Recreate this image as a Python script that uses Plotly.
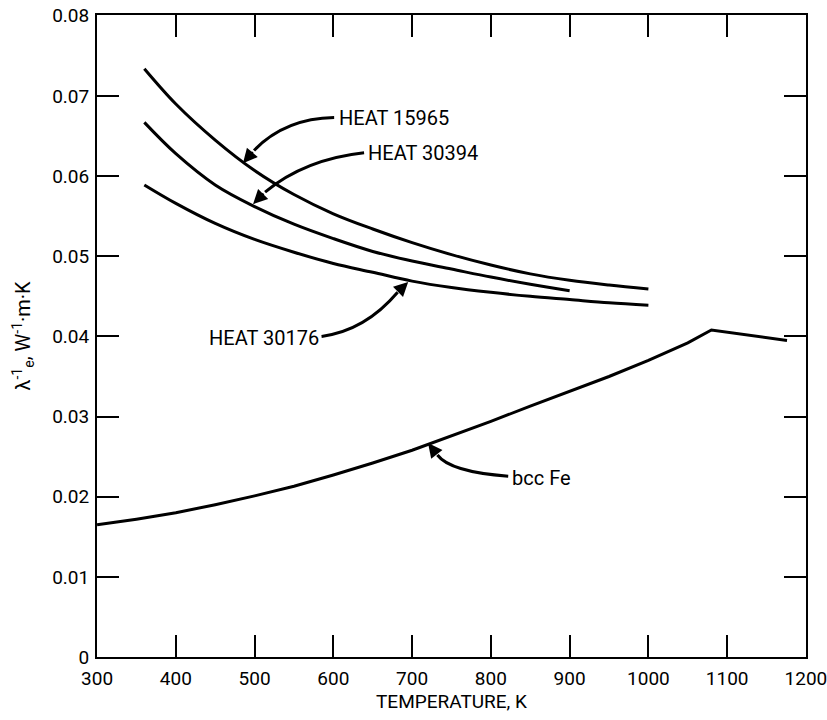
import plotly.graph_objects as go

# Data
T_heat = [360, 400, 450, 500, 550, 600, 650, 700, 750, 800, 850, 900, 950, 1000]
heat_15965 = [0.0734, 0.0690, 0.0645, 0.0607, 0.0577, 0.0553, 0.0534, 0.0517, 0.0502, 0.0489, 0.0478, 0.0470, 0.0464, 0.0459]
T_30394 = [360, 400, 450, 500, 550, 600, 650, 700, 750, 800, 850, 900]
heat_30394 = [0.0667, 0.0628, 0.0589, 0.0562, 0.0540, 0.0522, 0.0506, 0.0494, 0.0484, 0.0474, 0.0465, 0.0457]
heat_30176 = [0.0589, 0.0566, 0.0541, 0.0521, 0.0505, 0.0491, 0.0480, 0.0469, 0.0461, 0.0455, 0.0450, 0.0446, 0.0442, 0.0439]
T_fe = [300, 350, 400, 450, 500, 550, 600, 650, 700, 750, 800, 850, 900, 950, 1000, 1050, 1080, 1130, 1176]
bcc_fe = [0.0165, 0.0172, 0.0180, 0.0190, 0.0201, 0.0213, 0.0227, 0.0242, 0.0258, 0.0276, 0.0294, 0.0313, 0.0331, 0.0350, 0.0370, 0.0392, 0.0408, 0.0401, 0.0395]

x_ticks = [300, 400, 500, 600, 700, 800, 900, 1000, 1100, 1200]
y_ticks = [0, 0.01, 0.02, 0.03, 0.04, 0.05, 0.06, 0.07, 0.08]
y_tick_text = ["0", "0.01", "0.02", "0.03", "0.04", "0.05", "0.06", "0.07", "0.08"]

FONT = "Roboto, DejaVu Sans, sans-serif"
line_style = dict(color="black", width=3)

fig = go.Figure()
fig.add_trace(go.Scatter(x=T_heat, y=heat_15965, mode="lines", line=line_style, line_shape="spline"))
fig.add_trace(go.Scatter(x=T_30394, y=heat_30394, mode="lines", line=line_style, line_shape="spline"))
fig.add_trace(go.Scatter(x=T_heat, y=heat_30176, mode="lines", line=line_style, line_shape="spline"))
fig.add_trace(go.Scatter(x=T_fe, y=bcc_fe, mode="lines", line=line_style))

# Labels: (text, x, y, xanchor)
labels = [
    ("HEAT 15965", 604, 0.0673, "left"),
    ("HEAT 30394", 642, 0.0629, "left"),
    ("HEAT 30176", 584, 0.0398, "right"),
    ("bcc Fe", 824, 0.0223, "left"),
]
for text, x, y, xa in labels:
    fig.add_annotation(x=x, y=y, text=text, showarrow=False, xanchor=xa, yanchor="middle",
                       font=dict(family=FONT, size=20, color="black"))

# Curved leader arrows: (tail, control, tip, back point for head)
arrows = [
    ((601.0, 0.0673), (538.6, 0.0672), (485.3, 0.0616), (499.3, 0.0632)),
    ((639.0, 0.0629), (563.9, 0.0621), (498.0, 0.0565), (513.3, 0.0580)),
    ((585.0, 0.0400), (640.2, 0.0407), (695.0, 0.0468), (681.6, 0.0455)),
    ((822.0, 0.02255), (748.1, 0.0231), (720.2, 0.0267), (732.1, 0.0252)),
]
for tail, ctrl, tip, back in arrows:
    fig.add_shape(type="path", xref="x", yref="y",
                  path=f"M {tail[0]},{tail[1]} Q {ctrl[0]},{ctrl[1]} {back[0]},{back[1]}",
                  line=dict(color="black", width=3))
    fig.add_annotation(x=tip[0], y=tip[1], ax=back[0], ay=back[1], axref="x", ayref="y",
                       xref="x", yref="y", text="", showarrow=True, arrowhead=2,
                       arrowsize=1.3, arrowwidth=2.2, arrowcolor="black", standoff=0)

axis_common = dict(showgrid=False, zeroline=False, showline=True, linecolor="black", linewidth=2,
                   mirror="ticks", ticks="inside", ticklen=22, tickwidth=1.5, tickcolor="black",
                   automargin=False, ticklabeloverflow="allow",
                   tickfont=dict(family=FONT, size=19, color="black"))

fig.update_xaxes(range=[299.9, 1200.1], tickvals=x_ticks, ticktext=[str(v) for v in x_ticks],
                 ticklabelstandoff=3,
                 title=dict(text="TEMPERATURE, K", font=dict(family=FONT, size=19, color="black"),
                            standoff=4),
                 **axis_common)
fig.update_yaxes(range=[0, 0.0801], tickvals=y_ticks, ticktext=y_tick_text,
                 ticklabelstandoff=2,
                 title=dict(text="λ<sup>-1</sup><sub>e</sub>, W<sup>-1</sup>·m·K",
                            font=dict(family=FONT, size=20, color="black"), standoff=16),
                 **axis_common)

fig.update_layout(width=827, height=720, showlegend=False,
                  plot_bgcolor="white", paper_bgcolor="white",
                  margin=dict(l=97, r=21, t=15, b=63))

fig.write_html("out.html", config={"displayModeBar": False},
               post_script="document.body.style.margin='0';")
